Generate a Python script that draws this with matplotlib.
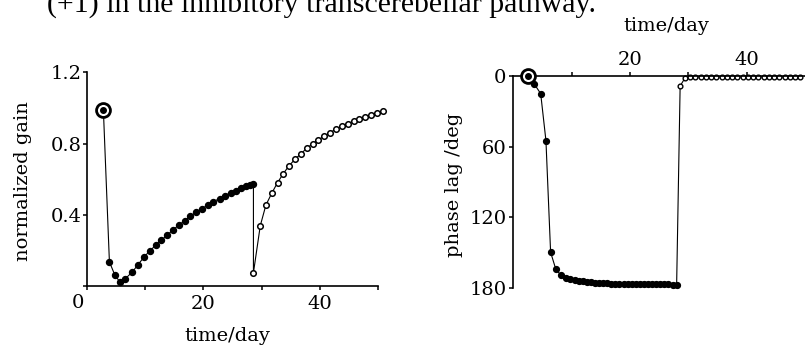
import matplotlib
matplotlib.use("Agg")
import matplotlib.pyplot as plt

plt.rcParams['font.family'] = ['DejaVu Serif']
plt.rcParams['font.size'] = 14

# left panel: normalized gain
gain_start_day = [2.76]
gain_start = [0.99]
gain_fall_days = [3.8, 4.7, 5.6, 6.55, 7.76, 8.74, 9.78, 10.75, 11.8, 12.76, 13.8, 14.78, 15.75, 16.8,
                  17.76, 18.74, 19.78, 20.75, 21.7, 22.76, 23.68, 24.66, 25.6, 26.5, 27.3, 28.05, 28.6]
gain_fall = [0.137, 0.066, 0.024, 0.043, 0.081, 0.122, 0.165, 0.199, 0.231, 0.259, 0.289, 0.317, 0.344, 0.368,
             0.394, 0.415, 0.436, 0.456, 0.475, 0.492, 0.509, 0.524, 0.537, 0.55, 0.56, 0.567, 0.575]
gain_rec_days = [28.6, 29.78, 30.75, 31.8, 32.76, 33.74, 34.7, 35.76, 36.8, 37.76, 38.8, 39.78, 40.8, 41.76,
                 42.8, 43.8, 44.8, 45.86, 46.8, 47.8, 48.9, 49.9, 50.9]
gain_rec = [0.076, 0.340, 0.456, 0.525, 0.582, 0.632, 0.675, 0.713, 0.744, 0.774, 0.799, 0.821, 0.843, 0.862,
            0.881, 0.898, 0.913, 0.926, 0.939, 0.950, 0.961, 0.971, 0.982]

# right panel: phase lag
phase_start_day = [2.6]
phase_start = [0.5]
phase_fall_days = [3.6, 4.7, 5.6, 6.4, 7.3, 8.2, 9.1, 9.8, 10.5, 11.2, 11.9, 12.6, 13.3, 14.0, 14.7, 15.4,
                   16.1, 16.8, 17.5, 18.2, 18.9, 19.6, 20.3, 21.0, 21.7, 22.4, 23.1, 23.8, 24.5, 25.2,
                   25.9, 26.6, 27.3, 28.0]
phase_fall = [7, 15.2, 55, 149.5, 164, 169, 171, 172, 173, 173.5, 174, 174.5, 175, 175.3, 175.5, 175.7,
              175.9, 176, 176.1, 176.2, 176.3, 176.4, 176.4, 176.5, 176.5, 176.6, 176.6, 176.6, 176.7, 176.7,
              176.7, 176.7, 176.8, 176.8]
phase_rec_days = [28.6, 29.4, 30.3, 31.2, 32.1, 33.0, 33.9, 34.8, 35.7, 36.6, 37.5, 38.4, 39.3, 40.2,
                  41.1, 42.0, 42.9, 43.8, 44.7, 45.6, 46.5, 47.4, 48.3, 49.2]
phase_rec = [8.7, 2.2, 1.0, 1.0, 1.0, 1.0, 1.0, 1.0, 1.0, 1.0, 1.0, 1.0, 1.0, 1.0,
             1.0, 1.0, 1.0, 1.0, 1.0, 1.0, 1.0, 1.0, 1.0, 1.0]

fig = plt.figure(figsize=(8.05, 3.46), dpi=100)

# last line of the caption above, cut by the crop
fig.text(596 / 805, 1 - 11.5 / 346, "(+1) in the inhibitory transcerebellar pathway.",
         family='Liberation Serif', fontsize=21.5, va='baseline', ha='right')

# ---- left
ax1 = fig.add_axes([0.1085, 0.1725, 0.3607, 0.6183])
ax1.plot(gain_start_day + gain_fall_days + gain_rec_days, gain_start + gain_fall + gain_rec,
         color='black', lw=0.8, zorder=1, clip_on=False)
ax1.plot(gain_fall_days, gain_fall, 'o', ms=4.3, color='black', clip_on=False, zorder=2)
ax1.plot(gain_rec_days, gain_rec, 'o', ms=4.0, mfc='white', mec='black', mew=1.1, clip_on=False, zorder=2)
ax1.plot(gain_start_day, gain_start, 'o', ms=10, mfc='white', mec='black', mew=2.0, clip_on=False, zorder=3)
ax1.plot(gain_start_day, gain_start, 'o', ms=4, color='black', clip_on=False, zorder=4)

ax1.set_xlim(0, 50)
ax1.set_ylim(0, 1.2)
for s in ['top', 'right']:
    ax1.spines[s].set_visible(False)
for s in ['left', 'bottom']:
    ax1.spines[s].set_linewidth(1.2)
ax1.set_xticks([0, 10, 20, 30, 40, 50])
ax1.set_xticklabels(['', '', '20', '', '40', ''])
ax1.set_yticks([0, 0.4, 0.8, 1.2])
ax1.set_yticklabels(['', '0.4', '0.8', '1.2'])
ax1.tick_params(direction='out', length=3, width=1.1, pad=3)
ax1.tick_params(axis='y', pad=1)
ax1.text(-1.7, -0.036, '0', transform=ax1.get_xaxis_transform(), ha='center', va='top')
ax1.set_ylabel('normalized gain')
ax1.yaxis.set_label_coords(-0.19, 0.49)
ax1.set_xlabel('time/day', va='top')
ax1.xaxis.set_label_coords(0.481, -0.19)

# ---- right
ax2 = fig.add_axes([0.6376, 0.1668, 0.3624, 0.6144])
ax2.plot(phase_start_day + phase_fall_days + phase_rec_days, phase_start + phase_fall + phase_rec,
         color='black', lw=0.8, zorder=1, clip_on=False)
ax2.plot(phase_fall_days, phase_fall, 'o', ms=4.2, color='black', clip_on=False, zorder=2)
ax2.plot(phase_rec_days, phase_rec, 'o', ms=3.4, mfc='white', mec='black', mew=1.0, clip_on=False, zorder=2)
ax2.plot(phase_start_day, phase_start, 'o', ms=10, mfc='white', mec='black', mew=2.0, clip_on=False, zorder=3)
ax2.plot(phase_start_day, phase_start, 'o', ms=4, color='black', clip_on=False, zorder=4)

ax2.set_xlim(0, 50)
ax2.set_ylim(180, 0)
for s in ['bottom', 'right']:
    ax2.spines[s].set_visible(False)
for s in ['left', 'top']:
    ax2.spines[s].set_linewidth(1.2)
ax2.xaxis.tick_top()
ax2.set_xticks([10, 20, 30, 40])
ax2.set_xticklabels(['', '20', '', '40'])
ax2.set_yticks([0, 60, 120, 180])
ax2.set_yticklabels(['0', '60', '120', '180'])
ax2.tick_params(direction='out', length=3, width=1.1, pad=2)
ax2.set_ylabel('phase lag /deg')
ax2.yaxis.set_label_coords(-0.173, 0.486)
fig.text(666 / 805, 1 - 26 / 346, 'time/day', ha='center', va='center')

fig.savefig('out.png', dpi=100)
